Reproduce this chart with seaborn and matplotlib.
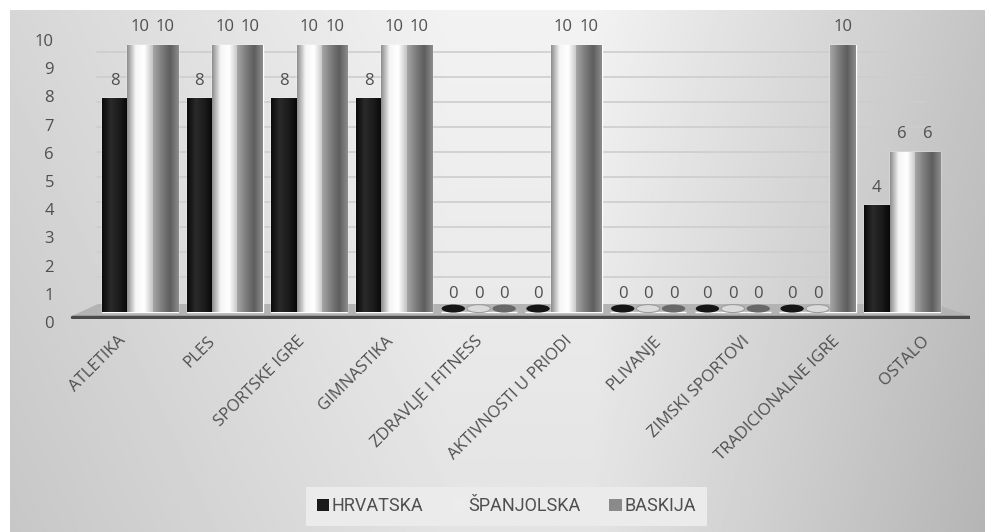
import matplotlib
matplotlib.use('Agg')
import matplotlib.pyplot as plt
import matplotlib.transforms as mtransforms
from matplotlib import font_manager
from matplotlib.colors import LinearSegmentedColormap
from matplotlib.patches import Ellipse, Patch, Polygon
import numpy as np
import pandas as pd
import seaborn as sns

categories = ['ATLETIKA', 'PLES', 'SPORTSKE IGRE', 'GIMNASTIKA', 'ZDRAVLJE I FITNESS',
              'AKTIVNOSTI U PRIODI', 'PLIVANJE', 'ZIMSKI SPORTOVI', 'TRADICIONALNE IGRE', 'OSTALO']
countries = ['HRVATSKA', 'ŠPANJOLSKA', 'BASKIJA']
hrvatska = [8, 8, 8, 8, 0, 0, 0, 0, 0, 4]
spanjolska = [10, 10, 10, 10, 0, 10, 0, 0, 0, 6]
baskija = [10, 10, 10, 10, 0, 10, 0, 0, 10, 6]
yticks = [0, 1, 2, 3, 4, 5, 6, 7, 8, 9, 10]

colors = ['#1a1a1a', '#f4f4f4', '#7c7c7c']
shades = [['#0a0a0a', '#2a2a2a', '#1c1c1c', '#080808'],
          ['#8e8e8e', '#f6f6f6', '#ffffff', '#c4c4c4'],
          ['#a6a6a6', '#7e7e7e', '#5e5e5e', '#8c8c8c']]
zero_colors = ['#151515', '#dadada', '#686868']
zero_edges = ['none', '#9c9c9c', 'none']
txt = '#4f4f4f'

df = pd.DataFrame({'kategorija': categories, 'HRVATSKA': hrvatska,
                   'ŠPANJOLSKA': spanjolska, 'BASKIJA': baskija})
df = df.melt(id_vars='kategorija', var_name='zemlja', value_name='vrijednost')

sns.set_style('white')
plt.rcParams['font.family'] = ['Open Sans', 'DejaVu Sans']
names = {f.name for f in font_manager.fontManager.ttflist}
narrow = 'Liberation Sans Narrow' if 'Liberation Sans Narrow' in names else 'Roboto'

fig = plt.figure(figsize=(9.85, 5.32), dpi=100, facecolor='white')

# background gradient
bg = fig.add_axes([10 / 985, 0, 975 / 985, 522 / 532], zorder=-1)
X, Y = np.meshgrid(np.linspace(0, 1, 400), np.linspace(0, 1, 200))
shade = np.interp(X, [0, 0.45, 0.6, 1], [0.84, 0.95, 0.95, 0.77]) - 0.06 * Y
bg.imshow(shade, cmap='gray', vmin=0, vmax=1, aspect='auto', extent=[0, 1, 0, 1])
bg.set_axis_off()

ax = fig.add_axes([70 / 985, 1 - 319 / 532, 900 / 985, 299 / 532], zorder=1)
ax.patch.set_alpha(0)

sns.barplot(data=df, x='kategorija', y='vrijednost', hue='zemlja', hue_order=countries,
            palette=colors, saturation=1, width=0.9, legend=False, ax=ax, zorder=3)

xlim = (-0.826, 9.80)
ylim = (-0.26, 10.94)

# floor of the 3d chart
floor = Polygon([[0.031, 0.05], [0.961, 0.05], [1.0, 0.010], [0.002, 0.010]],
                closed=True, transform=ax.transAxes, facecolor='#b3b3b3',
                edgecolor='none', zorder=1)
ax.add_patch(floor)
ax.plot([0.002, 1.0], [0.008, 0.008], transform=ax.transAxes, color='#4a4a4a', lw=2.5, zorder=1)

# back wall gridlines
for v in yticks[1:]:
    ax.axhline((10 + 25 * v) / 26.7, xmin=0.03, xmax=0.95, color='#cdcdcd', lw=1.2, zorder=0)

for j, cont in enumerate(ax.containers):
    cmap = LinearSegmentedColormap.from_list('c%d' % j, shades[j])
    for bar in cont:
        h = bar.get_height()
        x0 = bar.get_x()
        w = bar.get_width()
        if h > 0:
            im = ax.imshow(np.linspace(0, 1, 64)[None, :], cmap=cmap, aspect='auto',
                           extent=[x0, x0 + w, 0, h], zorder=3.5)
            im.set_clip_path(bar)
        else:
            ax.add_patch(Ellipse((x0 + w / 2, 0.13), w * 0.92, 0.3, facecolor=zero_colors[j],
                                 edgecolor=zero_edges[j], lw=0.8, zorder=3.5))
    ax.bar_label(cont, fmt='%g', padding=7, color=txt, fontsize=12, zorder=5)

ax.set_xlim(*xlim)
ax.set_ylim(*ylim)
ax.set_xlabel('')
ax.set_ylabel('')
ax.set_yticks(yticks)
ax.set_yticklabels([str(v) for v in yticks])
ax.tick_params(axis='y', length=0, pad=11.5, labelsize=12, labelcolor=txt)
ax.tick_params(axis='x', length=0, pad=0, labelsize=12, labelcolor=txt)
sns.despine(ax=ax, left=True, bottom=True)

for i, lab in enumerate(ax.get_xticklabels()):
    lab.set_rotation(45)
    lab.set_ha('right')
    lab.set_va('top')
    lab.set_rotation_mode('anchor')
    off = mtransforms.ScaledTranslation((-22 + 4.5 * i) / 100, -14 / 100, fig.dpi_scale_trans)
    lab.set_transform(lab.get_transform() + off)

for v, lab in zip(yticks, ax.get_yticklabels()):
    off = mtransforms.ScaledTranslation(0, -(10 - 1.5 * v) / 100, fig.dpi_scale_trans)
    lab.set_transform(lab.get_transform() + off)

handles = [Patch(facecolor=c, edgecolor='none') for c in ['#1a1a1a', '#ececec', '#8a8a8a']]
leg = fig.legend(handles, countries, loc='center', bbox_to_anchor=(0.514, 0.048), ncol=3,
                 frameon=True, facecolor='#ebebeb', edgecolor='none', framealpha=1,
                 fancybox=False, handlelength=0.7, handleheight=0.7, handletextpad=0.15,
                 columnspacing=1.6, borderpad=0.6,
                 prop={'family': [narrow, 'DejaVu Sans'], 'size': 13})
for t in leg.get_texts():
    t.set_color(txt)

fig.savefig('out.png', dpi=100, facecolor=fig.get_facecolor())
